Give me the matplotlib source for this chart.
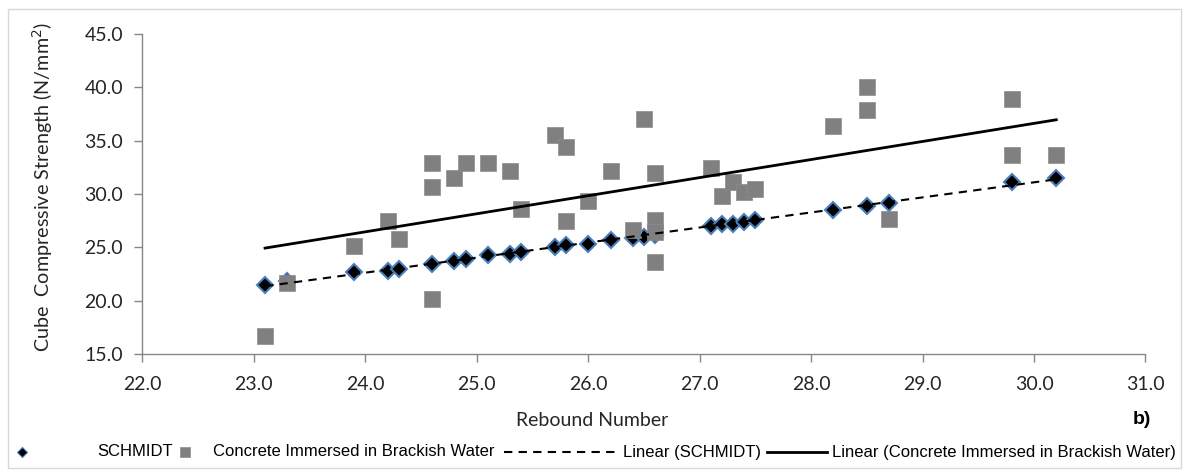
import numpy as np
import matplotlib
matplotlib.use("Agg")
import matplotlib.pyplot as plt
from matplotlib.patches import Rectangle
from matplotlib.lines import Line2D

# rebound number vs cube compressive strength (N/mm2)
schmidt_rn = [23.1, 23.3, 23.9, 24.2, 24.3, 24.6, 24.8, 24.9, 25.1, 25.3, 25.4, 25.7, 25.8, 26.0,
              26.2, 26.4, 26.5, 26.6, 27.1, 27.2, 27.3, 27.4, 27.5, 28.2, 28.5, 28.7, 29.8, 30.2]
schmidt_fc = [21.5, 21.8, 22.7, 22.8, 23.0, 23.4, 23.7, 23.9, 24.3, 24.4, 24.6, 25.0, 25.2, 25.3,
              25.7, 25.9, 26.0, 26.2, 27.0, 27.2, 27.2, 27.4, 27.6, 28.5, 28.9, 29.2, 31.1, 31.5]

brackish_rn = [23.1, 23.3, 23.9, 24.2, 24.3, 24.6, 24.6, 24.6, 24.8, 24.9, 25.1, 25.3, 25.4, 25.7,
               25.8, 25.8, 26.0, 26.2, 26.4, 26.5, 26.6, 26.6, 26.6, 26.6, 27.1, 27.2, 27.3, 27.4,
               27.5, 28.2, 28.5, 28.5, 28.7, 29.8, 29.8, 30.2]
brackish_fc = [16.7, 21.7, 25.1, 27.5, 25.8, 32.9, 30.7, 20.2, 31.5, 32.9, 32.9, 32.2, 28.6, 35.5,
               34.4, 27.5, 29.3, 32.2, 26.6, 37.0, 32.0, 27.6, 26.4, 23.6, 32.4, 29.8, 31.1, 30.2,
               30.5, 36.4, 40.0, 37.9, 27.7, 38.9, 33.7, 33.7]

x_ticks = [22.0, 23.0, 24.0, 25.0, 26.0, 27.0, 28.0, 29.0, 30.0, 31.0]
y_ticks = [15.0, 20.0, 25.0, 30.0, 35.0, 40.0, 45.0]

axis_font = ['Lato', 'DejaVu Sans']
legend_font = ['Liberation Sans', 'DejaVu Sans']

W, H = 1187, 472
fig = plt.figure(figsize=(W / 100, H / 100), dpi=100)
ax = fig.add_axes([0.120, 0.250, 0.845, 0.678])

# linear trendlines (least squares, like Excel)
def trend(xs, ys):
    k, b = np.polyfit(xs, ys, 1)
    xx = np.array([min(xs), max(xs)])
    return xx, k * xx + b

diamond = dict(linestyle='none', marker='D', markerfacecolor='black',
               markeredgecolor='#4a7ebb')
square = dict(linestyle='none', marker='s', markerfacecolor='#808080',
              markeredgecolor='#8c8c8c')
dashed = dict(color='black', linestyle=(0, (4, 3)), linewidth=1.5)
solid = dict(color='black', linestyle='-', linewidth=2.0)

ax.plot(schmidt_rn, schmidt_fc, markersize=8, markeredgewidth=1.5, zorder=3, **diamond)
ax.plot(brackish_rn, brackish_fc, markersize=12, markeredgewidth=0.5, zorder=4, **square)

tx, ty = trend(schmidt_rn, schmidt_fc)
ax.plot(tx, ty, zorder=5, **dashed)
tx, ty = trend(brackish_rn, brackish_fc)
ax.plot(tx, ty, zorder=5, **solid)

ax.set_xlim(22, 31)
ax.set_ylim(15, 45)
ax.set_xticks(x_ticks)
ax.set_yticks(y_ticks)
ax.set_xticklabels([f'{v:.1f}' for v in x_ticks], family=axis_font, fontsize=14, color='#262626')
ax.set_yticklabels([f'{v:.1f}' for v in y_ticks], family=axis_font, fontsize=14, color='#262626')
ax.tick_params(direction='out', length=6, color='#868686', width=1)
ax.tick_params(axis='x', pad=10)
ax.tick_params(axis='y', pad=8)

for side in ['top', 'right']:
    ax.spines[side].set_visible(False)
for side in ['left', 'bottom']:
    ax.spines[side].set_color('#868686')
    ax.spines[side].set_linewidth(1)

fig.text(43 / W, 1 - 187 / H, 'Cube  Compressive Strength (N/mm$^2$)', rotation=90,
         ha='center', va='center', family=axis_font, fontsize=14.2, color='#262626')
fig.text(592 / W, 1 - 420 / H, 'Rebound Number', ha='center', va='center',
         family=axis_font, fontsize=14, color='#262626')
fig.text(1142 / W, 1 - 420 / H, 'b)', ha='center', va='center',
         family=legend_font, fontsize=14, fontweight='bold')

# legend row, laid out like the Excel one
ly = 1 - 452 / H
fig.add_artist(Line2D([22 / W], [ly], transform=fig.transFigure, markersize=5,
                      markeredgewidth=0.8, **diamond))
fig.add_artist(Line2D([185 / W], [ly], transform=fig.transFigure, markersize=7,
                      markeredgewidth=0.5, **square))
fig.add_artist(Line2D([504 / W, 617 / W], [ly, ly], transform=fig.transFigure, **dashed))
fig.add_artist(Line2D([767 / W, 827 / W], [ly, ly], transform=fig.transFigure, **solid))
legend_labels = [(97, 'SCHMIDT'), (213, 'Concrete Immersed in Brackish Water'),
                 (623, 'Linear (SCHMIDT)'), (832, 'Linear (Concrete Immersed in Brackish Water)')]
for lx, txt in legend_labels:
    fig.text(lx / W, ly, txt, ha='left', va='center', family=legend_font, fontsize=12)

# outer chart border
fig.patches.append(Rectangle((8 / W, 1 - 468 / H), 1173 / W, 459 / H,
                             transform=fig.transFigure, fill=False, edgecolor='#d9d9d9',
                             linewidth=1))

fig.savefig('out.png', dpi=100)
